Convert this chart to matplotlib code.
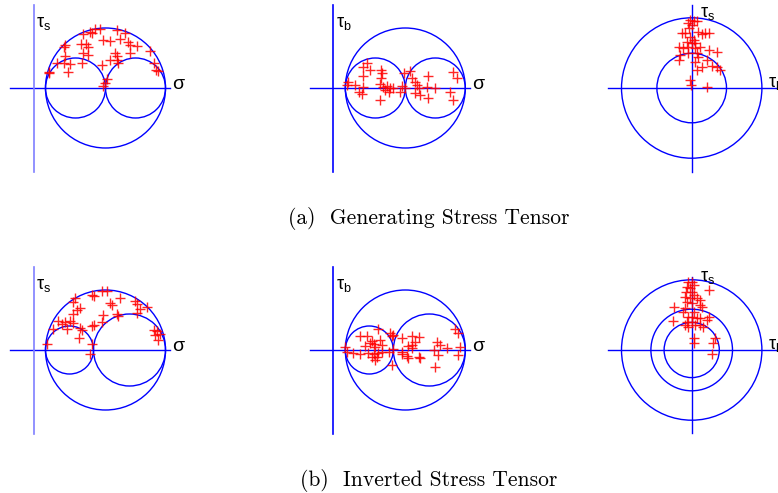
import matplotlib
matplotlib.use('Agg')
import matplotlib.pyplot as plt
from matplotlib.patches import Circle

# sans-serif greek for the axis names
matplotlib.rcParams['mathtext.fontset'] = 'custom'
matplotlib.rcParams['mathtext.rm'] = 'Liberation Sans'
matplotlib.rcParams['mathtext.it'] = 'Liberation Sans'
matplotlib.rcParams['mathtext.bf'] = 'Liberation Sans'

# principal stresses (sigma1, sigma2, sigma3) -> Mohr circles
stress_gen = [2.2, 1.2, 0.2]
stress_inv = [2.2, 1.0, 0.2]
# radii of the circles in the tau_l / tau_s plane
shear_gen = [1.17, 0.58]
shear_inv = [1.17, 0.68, 0.46]

# (a) generating tensor: sigma - tau_s
gen_s_sig = [1.10, 1.02, 0.94, 0.97, 0.82, 1.39, 1.53, 0.53, 0.51, 0.79, 0.875, 0.91, 0.82, 0.91,
             0.80, 0.53, 0.50, 0.39, 0.61, 0.58, 0.26, 0.25, 1.16, 1.275, 1.44, 1.58, 1.60, 1.72,
             1.60, 1.36, 1.39, 1.275, 1.39, 1.41, 1.14, 1.22, 1.19, 1.94, 2.0, 2.04, 2.08, 1.16]
gen_s_tau = [0.99, 0.98, 0.94, 0.91, 0.90, 0.97, 0.91, 0.72, 0.69, 0.74, 0.73, 0.69, 0.58, 0.55,
             0.41, 0.53, 0.42, 0.42, 0.40, 0.27, 0.27, 0.245, 0.80, 0.79, 0.81, 0.77, 0.72, 0.70,
             0.58, 0.58, 0.53, 0.47, 0.46, 0.42, 0.38, 0.145, 0.08, 0.62, 0.41, 0.30, 0.29, 0.03]
# (a) sigma - tau_b
gen_b_sig = [0.56, 0.61, 0.50, 0.50, 0.79, 0.81, 0.79, 0.25, 0.36, 0.22, 0.50, 0.42, 0.47, 0.78,
             0.83, 0.89, 0.86, 0.92, 1.0, 0.78, 1.14, 1.11, 1.17, 1.195, 1.28, 1.31, 1.36, 1.39,
             1.42, 1.36, 1.445, 1.57, 1.58, 1.56, 1.695, 1.945, 2.0, 2.0, 2.07, 0.945]
gen_b_tau = [0.41, 0.30, 0.355, 0.205, 0.30, 0.245, 0.16, 0.105, 0.05, 0.05, 0.02, -0.07, -0.105,
             0.06, 0.02, 0.03, -0.03, -0.07, -0.005, -0.20, 0.03, -0.06, 0.245, -0.005, 0.28, 0.16,
             0.105, 0.05, -0.005, -0.09, -0.12, -0.16, 0.205, 0.02, 0.005, -0.06, -0.20, 0.27,
             0.16, -0.005]
# (a) tau_l - tau_s
gen_l = [-0.03, 0.03, 0.08, -0.06, 0.0, -0.045, -0.17, -0.11, 0.11, 0.17, 0.22, 0.28, -0.03, 0.03,
         -0.08, 0.0, 0.055, -0.22, -0.14, -0.06, 0.055, 0.14, -0.195, -0.06, 0.11, 0.28, 0.42,
         0.25, 0.055, 0.17, 0.08, 0.33, 0.42, 0.47, -0.03, -0.01, 0.25, -0.22, 0.08]
gen_ls = [1.13, 1.12, 1.12, 1.08, 1.05, 0.995, 0.91, 0.91, 0.94, 0.90, 0.91, 0.92, 0.855, 0.80,
          0.77, 0.755, 0.745, 0.68, 0.66, 0.69, 0.66, 0.69, 0.55, 0.58, 0.52, 0.63, 0.605, 0.47,
          0.44, 0.345, 0.30, 0.37, 0.355, 0.30, 0.13, 0.05, 0.01, 0.47, 0.58]

# (b) inverted tensor: sigma - tau_s
inv_s_sig = [1.14, 1.22, 0.97, 1.0, 1.44, 1.275, 1.30, 0.69, 0.66, 0.775, 0.72, 0.66, 1.69, 1.72,
             1.89, 1.775, 1.72, 1.16, 1.39, 1.41, 1.14, 1.0, 0.97, 0.41, 0.47, 0.525, 0.61, 0.66,
             0.33, 0.55, 0.775, 0.80, 0.76, 0.97, 0.22, 0.94, 2.0, 2.05, 2.10, 2.025, 2.08]
inv_s_tau = [0.98, 0.98, 0.92, 0.90, 0.87, 0.79, 0.745, 0.87, 0.80, 0.70, 0.66, 0.605, 0.81, 0.77,
             0.72, 0.68, 0.62, 0.58, 0.605, 0.57, 0.47, 0.42, 0.40, 0.48, 0.44, 0.47, 0.48, 0.455,
             0.355, 0.355, 0.37, 0.33, 0.20, 0.105, 0.105, -0.06, 0.33, 0.31, 0.27, 0.245, 0.16]
# (b) sigma - tau_b
inv_b_sig = [0.75, 0.945, 0.97, 0.445, 0.56, 0.64, 0.61, 0.67, 0.78, 0.53, 0.695, 0.81, 0.195,
             0.22, 0.33, 0.445, 0.58, 0.67, 0.75, 0.64, 0.72, 0.695, 0.81, 0.92, 1.0, 1.14, 1.31,
             1.42, 1.36, 1.25, 1.31, 1.14, 1.14, 1.22, 1.31, 1.42, 1.25, 0.97, 1.445, 1.72, 1.78,
             1.89, 1.67, 1.75, 1.695, 2.03, 2.08, 2.11, 2.08, 1.0]
inv_b_tau = [0.345, 0.29, 0.23, 0.23, 0.23, 0.155, 0.11, 0.10, 0.17, 0.07, 0.055, 0.08, 0.055,
             -0.03, -0.045, -0.07, -0.055, -0.07, -0.055, -0.12, -0.11, -0.17, -0.03, -0.03, 0.01,
             0.195, 0.23, 0.22, 0.14, 0.07, 0.03, -0.03, -0.07, -0.10, 0.08, -0.12, -0.14, -0.25,
             -0.14, 0.14, 0.08, 0.03, 0.0, -0.08, -0.28, 0.345, 0.29, 0.055, -0.08, 0.25]
# (b) tau_l - tau_s
inv_l = [-0.055, 0, 0.03, -0.085, -0.03, -0.095, 0, 0.03, -0.11, -0.03, 0.08, 0.28, 0.14, -0.085,
         0, 0.14, 0.17, -0.295, -0.11, -0.14, 0.03, -0.305, -0.055, 0, 0.08, 0.14, 0.25, 0.28,
         0.19, -0.11, -0.055, 0.055, 0.14, 0.39, 0.36, 0.03, 0.03, 0.33, -0.085, 0]
inv_ls = [1.14, 1.13, 1.08, 1.055, 1.03, 0.97, 0.97, 0.92, 0.89, 0.86, 0.86, 1.0, 0.83, 0.805,
          0.78, 0.75, 0.72, 0.72, 0.695, 0.64, 0.64, 0.48, 0.555, 0.555, 0.53, 0.53, 0.50, 0.555,
          0.39, 0.42, 0.39, 0.42, 0.42, 0.195, 0.11, 0.195, 0.11, -0.07, 0.47, 0.47]

W, H, PX = 778, 493, 60.0
fig = plt.figure(figsize=(W / 100, H / 100), dpi=100)


def make_ax(x0, x1, y0, y1, ox, oy):
    ax = fig.add_axes([x0 / W, 1 - y1 / H, (x1 - x0) / W, (y1 - y0) / H])
    ax.set_xlim((x0 - ox) / PX, (x1 - ox) / PX)
    ax.set_ylim((oy - y1) / PX, (oy - y0) / PX)
    ax.axis('off')
    return ax


def mohr_panel(ax, s, xs, ys, ylab, vcol, vtop):
    s1, s2, s3 = s
    for a, b in [(s1, s3), (s3, s2), (s2, s1)]:
        ax.add_patch(Circle(((a + b) / 2, 0), abs(a - b) / 2, fill=False, ec='blue', lw=1.0))
    ax.plot([-0.39, 2.28], [0, 0], color='blue', lw=1.0)
    ax.plot([0, 0], [-1.4, vtop], color=vcol, lw=1.2)
    ax.plot(xs, ys, '+', color='red', ms=6.5, mew=1.0, alpha=0.85)
    ax.text(0.04, 1.01, ylab, fontsize=13, ha='left', va='baseline')
    ax.text(2.31, -0.02, 'σ', fontsize=14, family='Liberation Sans', ha='left', va='baseline')


def shear_panel(ax, radii, xs, ys, vbot, vtop, ytxt):
    for r in radii:
        ax.add_patch(Circle((0, 0), r, fill=False, ec='blue', lw=1.0))
    ax.plot([-1.39, 1.6], [0, 0], color='blue', lw=1.0)
    ax.plot([0, 0], [vbot, vtop], color='blue', lw=1.0)
    ax.plot(xs, ys, '+', color='red', ms=6.5, mew=1.0, alpha=0.85)
    ax.text(0.14, ytxt, r'$\mathrm{\tau_s}$', fontsize=13, ha='left', va='baseline')
    ax.text(1.27, 0.02, r'$\mathrm{\tau_l}$', fontsize=13, ha='left', va='baseline')


for row, oy in enumerate([88, 350]):
    y0, y1 = oy - 88, oy + 92
    a1 = make_ax(0, 200, y0, y1, 33.5, oy)
    a2 = make_ax(300, 500, y0, y1, 333.3, oy)
    a3 = make_ax(600, 778, y0, y1, 691.7, oy)
    if row == 0:
        mohr_panel(a1, stress_gen, gen_s_sig, gen_s_tau, r'$\mathrm{\tau_s}$', '#7f7fff', 1.38)
        mohr_panel(a2, stress_gen, gen_b_sig, gen_b_tau, r'$\mathrm{\tau_b}$', 'blue', 1.38)
        shear_panel(a3, shear_gen, gen_l, gen_ls, -1.4, 1.38, 1.18)
    else:
        mohr_panel(a1, stress_inv, inv_s_sig, inv_s_tau, r'$\mathrm{\tau_s}$', '#7f7fff', 1.38)
        mohr_panel(a2, stress_inv, inv_b_sig, inv_b_tau, r'$\mathrm{\tau_b}$', 'blue', 1.38)
        shear_panel(a3, shear_inv, inv_l, inv_ls, -1.38, 1.22, 1.15)
    for a in (a1, a2, a3):
        for art in a.get_children():
            art.set_clip_on(False)

fig.text(428.5 / W, 1 - 218 / H, '(a)  Generating Stress Tensor', family='cmr10',
         fontsize=15.5, ha='center', va='center')
fig.text(429 / W, 1 - 481 / H, '(b)  Inverted Stress Tensor', family='cmr10',
         fontsize=15.5, ha='center', va='center')

fig.savefig('out.png', dpi=100)
